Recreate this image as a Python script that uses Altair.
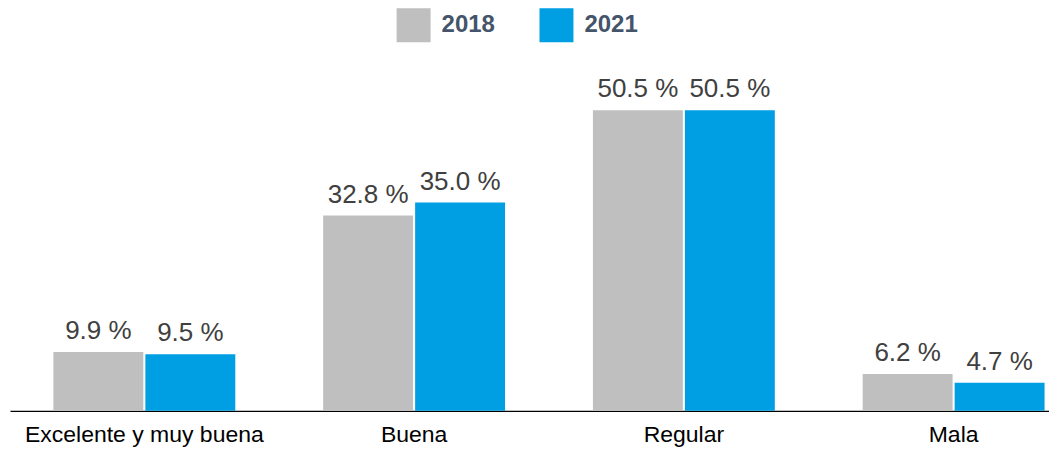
import altair as alt
import pandas as pd

categories = ["Excelente y muy buena", "Buena", "Regular", "Mala"]
years = ["2018", "2021"]
values_2018 = [9.9, 32.8, 50.5, 6.2]
values_2021 = [9.5, 35.0, 50.5, 4.7]

rows = []
for c, a, b in zip(categories, values_2018, values_2021):
    rows.append({"cat": c, "year": "2018", "value": a})
    rows.append({"cat": c, "year": "2021", "value": b})
df = pd.DataFrame(rows)

color_scale = alt.Scale(domain=years, range=["#BFBFBF", "#009FE3"])
x_enc = alt.X("cat:N", sort=categories, title=None,
              scale=alt.Scale(range=[0, 1079], paddingInner=0.33, paddingOuter=0.163),
              axis=alt.Axis(labelAngle=0, ticks=False, domain=True, domainColor="#000000",
                            domainWidth=1.2, labelFont="Liberation Sans", labelFontSize=23,
                            labelColor="#000000", labelPadding=13, labelLimit=0, grid=False))
xo = alt.XOffset("year:N", sort=years, scale=alt.Scale(paddingInner=0.035, paddingOuter=0))
y_enc = alt.Y("value:Q", scale=alt.Scale(domain=[0, 60.6], nice=False, zero=True), axis=None)

base = alt.Chart(df)
bars = base.mark_bar(size=90).encode(
    x=x_enc, xOffset=xo, y=y_enc,
    color=alt.Color("year:N", scale=color_scale, sort=years,
                    legend=alt.Legend(title=None, orient="none", legendX=387, legendY=-42,
                                      direction="horizontal", symbolType="square",
                                      symbolSize=1156, symbolStrokeWidth=0,
                                      labelFont="Liberation Sans", labelFontSize=24,
                                      labelFontWeight="bold", labelColor="#44546A",
                                      labelOffset=11, columnPadding=44, padding=0))
)
labels = base.mark_text(dy=-13, baseline="alphabetic", align="center",
                        font="Liberation Sans", fontSize=26, color="#404040").encode(
    x=x_enc, xOffset=xo, y=y_enc,
    text="label:N"
).transform_calculate(label="format(datum.value, '.1f') + ' %'")

chart = alt.layer(bars, labels).properties(
    width=1040, height=361,
    autosize=alt.AutoSizeParams(type="none"),
    padding={"left": 2, "top": 42, "right": 0, "bottom": 40}
).configure(background="#ffffff", view=alt.ViewConfig(stroke=None))

chart.save("out.html", embed_options={"renderer": "svg", "actions": False})
